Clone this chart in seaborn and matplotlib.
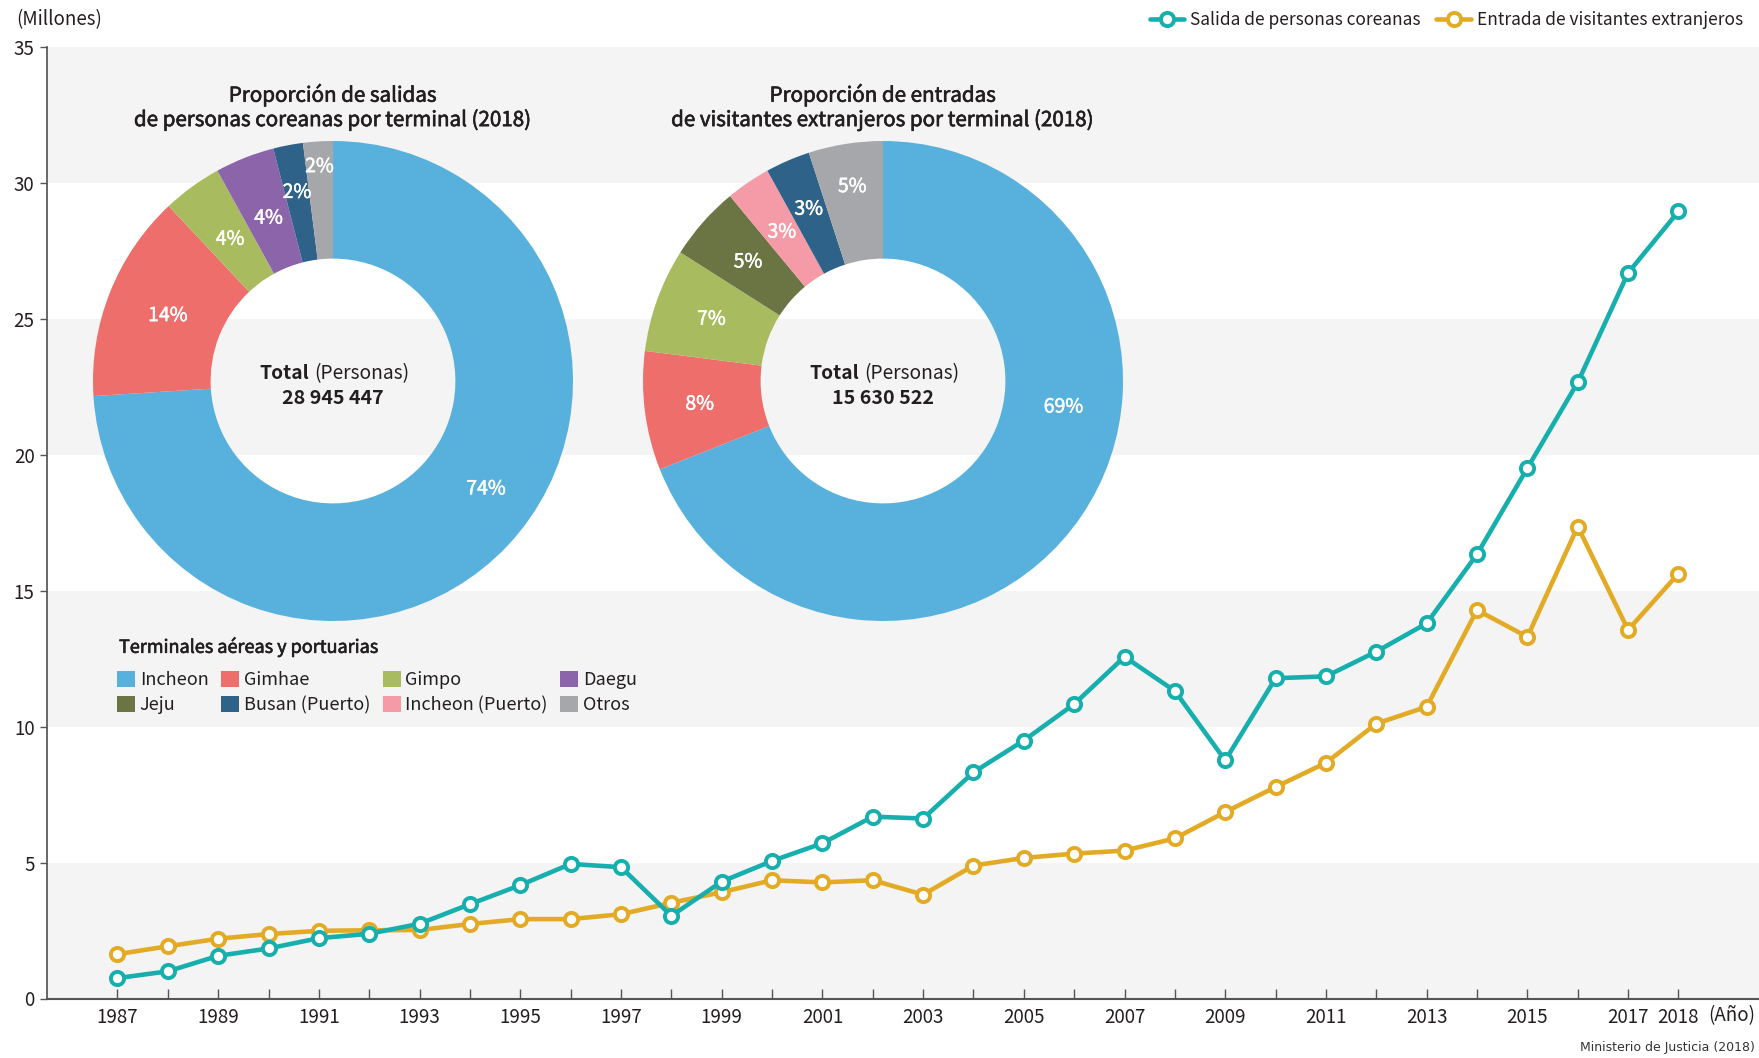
import numpy as np
import pandas as pd
import seaborn as sns
import matplotlib.pyplot as plt
import matplotlib.patheffects as pe
from matplotlib.patches import Patch
from matplotlib.lines import Line2D

# Series (millions of people per year)
years = list(range(1987, 2019))
salida = [0.75, 1.00, 1.57, 1.84, 2.22, 2.38, 2.75, 3.47, 4.17, 4.95,
          4.83, 3.04, 4.30, 5.06, 5.71, 6.69, 6.62, 8.32, 9.49, 10.83,
          12.57, 11.31, 8.76, 11.78, 11.85, 12.76, 13.80, 16.34, 19.51, 22.66,
          26.69, 28.95]
entrada = [1.63, 1.92, 2.20, 2.37, 2.49, 2.51, 2.52, 2.74, 2.92, 2.92,
           3.10, 3.52, 3.91, 4.35, 4.27, 4.35, 3.82, 4.89, 5.17, 5.33,
           5.44, 5.89, 6.86, 7.78, 8.67, 10.11, 10.73, 14.29, 13.30, 17.36,
           13.56, 15.63]

# Terminal shares 2018 (%)
terminals = ["Incheon", "Gimhae", "Gimpo", "Daegu",
             "Jeju", "Busan (Puerto)", "Incheon (Puerto)", "Otros"]
terminal_colors = {"Incheon": "#57b1dc", "Gimhae": "#ee6e6b", "Gimpo": "#a8bc5f",
                   "Daegu": "#8b64aa", "Jeju": "#6b7443", "Busan (Puerto)": "#2e6289",
                   "Incheon (Puerto)": "#f59aa7", "Otros": "#a6a7aa"}
salida_terms = ["Incheon", "Gimhae", "Gimpo", "Daegu", "Busan (Puerto)", "Otros"]
salida_share = [74, 14, 4, 4, 2, 2]
entrada_terms = ["Incheon", "Gimhae", "Gimpo", "Jeju", "Incheon (Puerto)", "Busan (Puerto)", "Otros"]
entrada_share = [69, 8, 7, 5, 3, 3, 5]
salida_total = "28 945 447"
entrada_total = "15 630 522"

TEAL = "#17afad"
GOLD = "#e3ab25"
TXT = "#231f20"
FONT = "Noto Sans CJK KR"


def medium(color, lw=0.45):
    # fake a medium weight with a thin outline of the same colour
    return [pe.withStroke(linewidth=lw, foreground=color)]


sns.set_theme(style="white")
plt.rcParams["font.family"] = [FONT, "DejaVu Sans"]

W, H = 1759, 1058
fig = plt.figure(figsize=(W / 100, H / 100), dpi=100)

# ---- main line chart ----
ax = fig.add_axes([47 / W, 1 - 998.5 / H, 1 - 47 / W, (998.5 - 47) / H])
for lo in range(0, 35, 10):
    ax.axhspan(lo, lo + 5, color="#f4f4f4", zorder=0, lw=0)

df = pd.DataFrame({"year": years, "salida": salida, "entrada": entrada})
line_kw = dict(marker="o", markersize=9.5, markerfacecolor="white",
               markeredgewidth=2.8, linewidth=3.3, zorder=3)
sns.lineplot(data=df, x="year", y="entrada", color=GOLD, markeredgecolor=GOLD, ax=ax, **line_kw)
sns.lineplot(data=df, x="year", y="salida", color=TEAL, markeredgecolor=TEAL, ax=ax, **line_kw)

ax.set_xlim(1985.6, 2019.6)
ax.set_ylim(0, 35)
ax.set_xticks(years)
ax.set_xticklabels([str(y) if (y % 2 == 1 or y == 2018) else "" for y in years])
ax.set_yticks(range(0, 36, 5))
ax.set_xlabel("")
ax.set_ylabel("")
ax.tick_params(axis="x", direction="in", length=7, width=1, color="#555555",
               labelsize=13.5, labelcolor=TXT, pad=6)
ax.tick_params(axis="y", direction="out", length=5, width=1, color="#555555",
               labelsize=13.5, labelcolor=TXT, pad=4)
ax.tick_params(axis="x", bottom=True)
ax.tick_params(axis="y", left=True)
for s in ["top", "right"]:
    ax.spines[s].set_visible(False)
ax.spines["left"].set_color("#555555")
ax.spines["bottom"].set_color("#555555")
ax.spines["bottom"].set_linewidth(1.5)
ax.grid(False)

fig.text(16 / W, 1 - 20 / H, "(Millones)", fontsize=13.5, color=TXT, va="center", ha="left")
fig.text(1755 / W, 1 - 1016 / H, "(Año)", fontsize=13.5, color=TXT, va="center", ha="right")
fig.text(1755 / W, 1 - 1047 / H, "Ministerio de Justicia (2018)", fontsize=9, color="#333333",
         va="center", ha="right", family=["Liberation Sans Narrow", "DejaVu Sans"])

# top legend for the two series
line_handles = [
    Line2D([], [], color=TEAL, lw=3.3, marker="o", markersize=9.5, markerfacecolor="white",
           markeredgecolor=TEAL, markeredgewidth=2.8),
    Line2D([], [], color=GOLD, lw=3.3, marker="o", markersize=9.5, markerfacecolor="white",
           markeredgecolor=GOLD, markeredgewidth=2.8),
]
fig.legend(line_handles, ["Salida de personas coreanas", "Entrada de visitantes extranjeros"],
           loc="center right", bbox_to_anchor=(1.0, 1 - 20 / H), ncol=2, frameon=False,
           fontsize=12.5, handlelength=2.0, handletextpad=0.35, columnspacing=0.9,
           labelcolor=TXT)


# ---- donuts ----
def donut(cx, cy, terms, shares, total, title, label_r, angle_shift):
    r = 240
    pax = fig.add_axes([(cx - r) / W, 1 - (cy + r) / H, 2 * r / W, 2 * r / H])
    wedges, _, autotexts = pax.pie(
        shares, colors=[terminal_colors[t] for t in terms], startangle=90, counterclock=False,
        wedgeprops=dict(width=0.49, linewidth=0), autopct=lambda p: f"{p:.0f}%",
        pctdistance=0.76, textprops=dict(color="white", fontsize=14), radius=1)
    for w, t, lr, sh in zip(wedges, autotexts, label_r, angle_shift):
        ang = np.deg2rad((w.theta1 + w.theta2) / 2 + sh)
        t.set_position((lr * np.cos(ang), lr * np.sin(ang)))
        t.set_ha("center")
        t.set_va("center")
        t.set_path_effects(medium("white", 0.35))
    pax.set_aspect("equal")
    pax.set_xlim(-1, 1)
    pax.set_ylim(-1, 1)
    pax.axis("off")
    pax.text(-0.10, 0.03, "Total", ha="right", va="center", fontsize=13.8,
             fontweight="bold", color=TXT)
    pax.text(-0.08, 0.03, "(Personas)", ha="left", va="center", fontsize=13.8, color=TXT)
    pax.text(0, -0.075, total, ha="center", va="center", fontsize=14.2,
             fontweight="bold", color=TXT)
    fig.text(cx / W, 1 - 107 / H, title, ha="center", va="center", fontsize=14.8,
             color=TXT, linespacing=1.1, path_effects=medium(TXT))


donut(333, 381, salida_terms, salida_share, salida_total,
      "Proporción de salidas\nde personas coreanas por terminal (2018)",
      [0.78, 0.74, 0.73, 0.73, 0.80, 0.895], [8, 0, 0, 0, 0, 0])
donut(883, 381, entrada_terms, entrada_share, entrada_total,
      "Proporción de entradas\nde visitantes extranjeros por terminal (2018)",
      [0.76, 0.77, 0.76, 0.75, 0.75, 0.78, 0.82], [26, 0, 0, 0, 0, 0, 0])

# terminal legend (filled column-wise, so order rows accordingly)
fig.text(119 / W, 1 - 647 / H, "Terminales aéreas y portuarias", ha="left", va="center",
         fontsize=13, color=TXT, path_effects=medium(TXT))
order = ["Incheon", "Jeju", "Gimhae", "Busan (Puerto)", "Gimpo", "Incheon (Puerto)", "Daegu", "Otros"]
patches = [Patch(facecolor=terminal_colors[t], edgecolor="none") for t in order]
fig.legend(patches, order, loc="upper left", bbox_to_anchor=(110 / W, 1 - 664 / H), ncol=4,
           frameon=False, fontsize=13, handlelength=1.0, handleheight=1.0,
           handletextpad=0.25, columnspacing=0.7, labelspacing=0.35,
           borderaxespad=0.0, labelcolor=TXT)

fig.savefig("out.png", dpi=100)
